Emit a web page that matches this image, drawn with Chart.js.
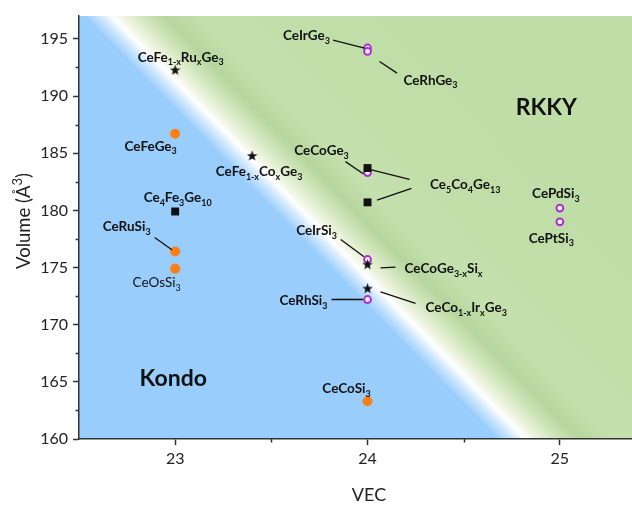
<!DOCTYPE html>
<html>
<head>
<meta charset="utf-8">
<script src="https://cdn.jsdelivr.net/npm/chart.js@4.4.1/dist/chart.umd.min.js"></script>
<style>
  html, body { margin: 0; padding: 0; background: #fff; overflow: hidden; }
  #wrap { position: relative; width: 632px; height: 505px; }
</style>
</head>
<body>
<div id="wrap"><canvas id="c"></canvas></div>
<script>
// ---- data: valence electron count (VEC) vs unit-cell volume (Å^3) ----
// orange filled circles
const orangeNames = ['CeFeGe_{3}', 'CeRuSi_{3}', 'CeOsSi_{3}', 'CeCoSi_{3}'];
const orangeVEC   = [23, 23, 23, 24];
const orangeVol   = [186.7, 176.4, 174.9, 163.3];

// black squares
const squareNames = ['Ce_{4}Fe_{3}Ge_{10}', 'Ce_{5}Co_{4}Ge_{13}', 'Ce_{5}Co_{4}Ge_{13}'];
const squareVEC   = [23, 24, 24];
const squareVol   = [179.9, 183.7, 180.7];

// purple open circles
const circleNames = ['CeIrGe_{3}', 'CeRhGe_{3}', 'CeCoGe_{3}', 'CeIrSi_{3}', 'CeRhSi_{3}', 'CePdSi_{3}', 'CePtSi_{3}'];
const circleVEC   = [24, 24, 24, 24, 24, 25, 25];
const circleVol   = [194.2, 193.9, 183.3, 175.7, 172.2, 180.2, 179.0];

// black stars (substitution series)
const starNames = ['CeFe_{1-x}Ru_{x}Ge_{3}', 'CeFe_{1-x}Co_{x}Ge_{3}', 'CeCoGe_{3-x}Si_{x}', 'CeCo_{1-x}Ir_{x}Ge_{3}'];
const starVEC   = [23, 23.4, 24, 24];
const starVol   = [192.3, 184.8, 175.3, 173.2];

// axis ticks
const xTicks = [23, 24, 25];
const xMinorTicks = [23.5, 24.5];
const yTicks = [160, 165, 170, 175, 180, 185, 190, 195];
const yMinorTicks = [162.5, 167.5, 172.5, 177.5, 182.5, 187.5, 192.5];

// Kondo / RKKY crossover line (VEC, volume) and region names
const crossover = [[22.67, 197], [24.82, 160]];
const regions = [
  { text: 'Kondo', x: 22.99, y: 165.4 },
  { text: 'RKKY',  x: 24.93, y: 189.05 }
];

const FONT = 'Lato, "Open Sans", sans-serif';

const toPts = (xs, ys) => xs.map((x, i) => ({ x: x, y: ys[i] }));

// filled five-point star used as a point style
function makeStar(size) {
  const c = document.createElement('canvas');
  c.width = size; c.height = size;
  const g = c.getContext('2d');
  const cx = size / 2, cy = size / 2 + 0.6, R = size / 2, r = R * 0.42;
  g.beginPath();
  for (let i = 0; i < 10; i++) {
    const a = -Math.PI / 2 + i * Math.PI / 5;
    const rad = i % 2 === 0 ? R : r;
    g.lineTo(cx + rad * Math.cos(a), cy + rad * Math.sin(a));
  }
  g.closePath();
  g.fillStyle = '#111';
  g.fill();
  return c;
}
const starImg = makeStar(11);

// text with _{sub} and ^{sup} parts, centred on (cx, cy)
function richText(ctx, str, cx, cy, size, weight) {
  const parts = [];
  const re = /([_^])\{([^}]*)\}|([^_^]+)/g;
  let m;
  while ((m = re.exec(str)) !== null) {
    if (m[3]) parts.push({ t: m[3], k: 'n' });
    else parts.push({ t: m[2], k: m[1] === '_' ? 's' : 'p' });
  }
  const small = Math.round(size * 0.7);
  const fBig = weight + ' ' + size + 'px ' + FONT;
  const fSmall = weight + ' ' + small + 'px ' + FONT;
  let total = 0;
  parts.forEach(p => {
    ctx.font = p.k === 'n' ? fBig : fSmall;
    p.w = ctx.measureText(p.t).width;
    total += p.w;
  });
  let x = cx - total / 2;
  const base = cy + size * 0.36;
  ctx.textAlign = 'left';
  ctx.textBaseline = 'alphabetic';
  parts.forEach(p => {
    ctx.font = p.k === 'n' ? fBig : fSmall;
    const dy = p.k === 's' ? size * 0.27 : (p.k === 'p' ? -size * 0.42 : 0);
    ctx.fillText(p.t, x, base + dy);
    x += p.w;
  });
}

// label placement: dataset, index, text offset from the point (px), leader lines as offsets
const labelSpec = [
  { ds: 'star',   i: 0, dx: 5.5,  dy: -13 },
  { ds: 'orange', i: 0, dx: -24.5, dy: 12 },
  { ds: 'square', i: 0, dx: 2.5,  dy: -14 },
  { ds: 'orange', i: 1, dx: -48.5, dy: -25, lines: [[-20.5, -14, -3, -1.5]] },
  { ds: 'orange', i: 2, dx: -18.5, dy: 13.5, weight: 'normal' },
  { ds: 'star',   i: 1, dx: 7,    dy: 16 },
  { ds: 'circle', i: 0, dx: -61,  dy: -13, lines: [[-34.5, -8, -3, 0]] },
  { ds: 'circle', i: 1, dx: 63,   dy: 28.5, lines: [[12, 10, 29.5, 21.7]] },
  { ds: 'circle', i: 2, dx: -46,  dy: -22.6, lines: [[-22, -11, -4, 1.4]] },
  { ds: 'square', i: 1, dx: 97.7, dy: 16, lines: [[2, 1.3, 42, 11.3]] },
  { ds: 'square', i: 2, text: false, lines: [[9.5, -2.3, 44, -14]] },
  { ds: 'circle', i: 3, dx: -51,  dy: -29.4, lines: [[-26.8, -20, -3.5, -2.7]] },
  { ds: 'star',   i: 2, dx: 76,   dy: 4, lines: [[13, 3.7, 28, 3]] },
  { ds: 'star',   i: 3, dx: 98.7, dy: 19, lines: [[13, 3.7, 48, 15.3]] },
  { ds: 'circle', i: 4, dx: -64,  dy: 0.6, lines: [[-36, 0, -4.5, 0]] },
  { ds: 'orange', i: 3, dx: -21,  dy: -13 },
  { ds: 'circle', i: 5, dx: -4,   dy: -15 },
  { ds: 'circle', i: 6, dx: -8.6, dy: 16 }
];
const seriesNames = { star: starNames, orange: orangeNames, square: squareNames, circle: circleNames };

// Kondo (blue) / RKKY (green) background with a soft white crossover band
const backgroundPlugin = {
  id: 'regimeBackground',
  beforeDraw(chart) {
    const { ctx, chartArea: a, scales: { x, y } } = chart;
    const p0 = [x.getPixelForValue(crossover[0][0]), y.getPixelForValue(crossover[0][1])];
    const p1 = [x.getPixelForValue(crossover[1][0]), y.getPixelForValue(crossover[1][1])];
    const dx = p1[0] - p0[0], dy = p1[1] - p0[1];
    const len = Math.hypot(dx, dy);
    const n = [-dy / len, dx / len];           // normal
    if (n[0] < 0) { n[0] = -n[0]; n[1] = -n[1]; } // point toward the upper-right side
    const c = [(p0[0] + p1[0]) / 2, (p0[1] + p1[1]) / 2];
    const dMin = -40, dMax = 200;
    const g = ctx.createLinearGradient(c[0] + n[0] * dMin, c[1] + n[1] * dMin,
                                       c[0] + n[0] * dMax, c[1] + n[1] * dMax);
    const stop = (d, col) => g.addColorStop((d - dMin) / (dMax - dMin), col);
    stop(-40, 'rgb(152,205,252)');
    stop(-20, 'rgb(152,205,252)');
    stop(-8,  'rgb(208,232,253)');
    stop(0,   'rgb(255,255,255)');
    stop(8,   'rgb(238,244,224)');
    stop(24,  'rgb(205,228,183)');
    stop(38,  'rgb(182,214,158)');
    stop(62,  'rgb(196,224,173)');
    stop(200, 'rgb(191,221,166)');
    ctx.save();
    ctx.fillStyle = g;
    ctx.fillRect(a.left, a.top, a.right - a.left, a.bottom - a.top);
    ctx.restore();
  }
};

// compound names, leader lines, region names
const labelPlugin = {
  id: 'compoundLabels',
  afterDatasetsDraw(chart) {
    const { ctx, scales: { x, y } } = chart;
    const metaByKey = {};
    chart.data.datasets.forEach((d, k) => { metaByKey[d.key] = chart.getDatasetMeta(k); });
    ctx.save();
    ctx.fillStyle = '#111';
    ctx.strokeStyle = '#111';
    ctx.lineWidth = 1.3;
    labelSpec.forEach(s => {
      const el = metaByKey[s.ds].data[s.i];
      const px = el.x, py = el.y;
      (s.lines || []).forEach(l => {
        ctx.beginPath();
        ctx.moveTo(px + l[0], py + l[1]);
        ctx.lineTo(px + l[2], py + l[3]);
        ctx.stroke();
      });
      if (s.text !== false) {
        richText(ctx, seriesNames[s.ds][s.i], px + s.dx, py + s.dy, 13.5, s.weight || 'bold');
      }
    });
    regions.forEach(r => {
      richText(ctx, r.text, x.getPixelForValue(r.x), y.getPixelForValue(r.y), 23, 'bold');
    });
    ctx.restore();
  },
  afterDraw(chart) {
    const { ctx, chartArea: a, scales: { x, y } } = chart;
    ctx.save();
    ctx.strokeStyle = '#333';
    ctx.lineWidth = 1.5;
    // minor ticks
    yMinorTicks.forEach(v => {
      const py = Math.round(y.getPixelForValue(v)) + 0.5;
      ctx.beginPath(); ctx.moveTo(a.left - 3.5, py); ctx.lineTo(a.left, py); ctx.stroke();
    });
    xMinorTicks.forEach(v => {
      const px = Math.round(x.getPixelForValue(v)) + 0.5;
      ctx.beginPath(); ctx.moveTo(px, a.bottom); ctx.lineTo(px, a.bottom + 3.5); ctx.stroke();
    });
    // axis titles
    ctx.fillStyle = '#222';
    richText(ctx, 'VEC', 369, 495, 18, 'normal');
    ctx.translate(23, 221);
    ctx.rotate(-Math.PI / 2);
    richText(ctx, 'Volume (Å^{3})', 0, 0, 18.5, 'normal');
    ctx.restore();
  }
};

new Chart(document.getElementById('c'), {
  type: 'scatter',
  data: {
    datasets: [
      { key: 'star', data: toPts(starVEC, starVol), pointStyle: starImg, pointRadius: 5.5 },
      { key: 'square', data: toPts(squareVEC, squareVol), pointStyle: 'rect', pointRadius: 5.6,
        backgroundColor: '#111', borderColor: '#111', borderWidth: 0 },
      { key: 'circle', data: toPts(circleVEC, circleVol), pointStyle: 'circle', pointRadius: 3.4,
        backgroundColor: '#ffffff', borderColor: '#B02CD6', borderWidth: 2 },
      { key: 'orange', data: toPts(orangeVEC, orangeVol), pointStyle: 'circle', pointRadius: 5,
        backgroundColor: '#FF7F15', borderColor: '#FF7F15', borderWidth: 0 }
    ]
  },
  options: {
    responsive: true,
    maintainAspectRatio: false,
    animation: false,
    events: [],
    layout: { autoPadding: false, padding: { top: 16, right: 0, left: 0, bottom: 0 } },
    plugins: { legend: { display: false }, tooltip: { enabled: false } },
    scales: {
      x: {
        type: 'linear',
        min: 22.5,
        max: 25.375,
        afterBuildTicks: s => { s.ticks = xTicks.map(v => ({ value: v })); },
        afterFit: s => { s.height = 66; s.paddingLeft = 0; s.paddingRight = 0; },
        ticks: { font: { family: FONT, size: 16 }, color: '#222', padding: 4, maxRotation: 0 },
        grid: { drawOnChartArea: false, tickLength: 6, tickColor: '#333', tickWidth: 1.5 },
        border: { color: '#333', width: 1.5 }
      },
      y: {
        type: 'linear',
        min: 160,
        max: 197,
        afterBuildTicks: s => { s.ticks = yTicks.map(v => ({ value: v })); },
        afterFit: s => { s.width = 79; s.paddingTop = 0; s.paddingBottom = 0; },
        ticks: { font: { family: FONT, size: 16 }, color: '#222', padding: 5 },
        grid: { drawOnChartArea: false, tickLength: 6, tickColor: '#333', tickWidth: 1.5 },
        border: { color: '#333', width: 1.5 }
      }
    }
  },
  plugins: [backgroundPlugin, labelPlugin]
});
</script>
</body>
</html>
